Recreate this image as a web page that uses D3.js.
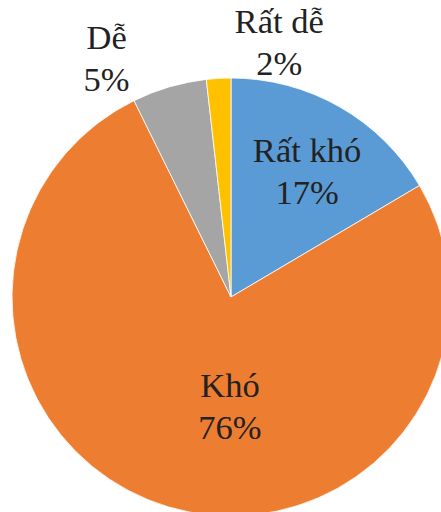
<!DOCTYPE html>
<html>
<head>
<meta charset="utf-8">
<script src="https://d3js.org/d3.v7.min.js"></script>
<style>
body { margin: 0; background: #fff; }
</style>
</head>
<body>
<svg id="chart"></svg>
<script>
// data (slice order: clockwise from 12 o'clock)
var categories = ["Rất khó", "Khó", "Dễ", "Rất dễ"];
var values = [16.5, 76.2, 5.5, 1.8];
var pctLabels = ["17%", "76%", "5%", "2%"];
var colors = ["#5B9BD5", "#ED7D31", "#A5A5A5", "#FFC000"];

var width = 441, height = 512;
var cx = 231, cy = 297, radius = 219;

// label anchor (angle in degrees, distance from centre) per slice
var labelPos = [[33.7, 137], [180.5, 121], [331.3, 259], [11.2, 248]];

var svg = d3.select("#chart").attr("width", width).attr("height", height);
var g = svg.append("g").attr("transform", "translate(" + cx + "," + cy + ")");

var pie = d3.pie().sort(null).value(function(d) { return d; });
var arc = d3.arc().innerRadius(0).outerRadius(radius);
var arcs = pie(values);

g.selectAll("path")
  .data(arcs)
  .enter().append("path")
  .attr("d", arc)
  .attr("fill", function(d, i) { return colors[i]; })
  .attr("stroke", "#fff")
  .attr("stroke-width", 0.8);

var lbl = g.selectAll("text.lbl")
  .data(arcs)
  .enter().append("text")
  .attr("class", "lbl")
  .style("font-family", "Liberation Serif")
  .style("font-size", "34.5px")
  .attr("fill", "#222")
  .attr("text-anchor", "middle")
  .attr("transform", function(d, i) {
    var a = labelPos[i][0] * Math.PI / 180, r = labelPos[i][1];
    return "translate(" + (r * Math.sin(a)) + "," + (-r * Math.cos(a)) + ")";
  });

lbl.append("tspan").attr("x", 0).attr("y", -21).text(function(d, i) { return categories[i]; });
lbl.append("tspan").attr("x", 0).attr("y", 21).text(function(d, i) { return pctLabels[i]; });
</script>
</body>
</html>
